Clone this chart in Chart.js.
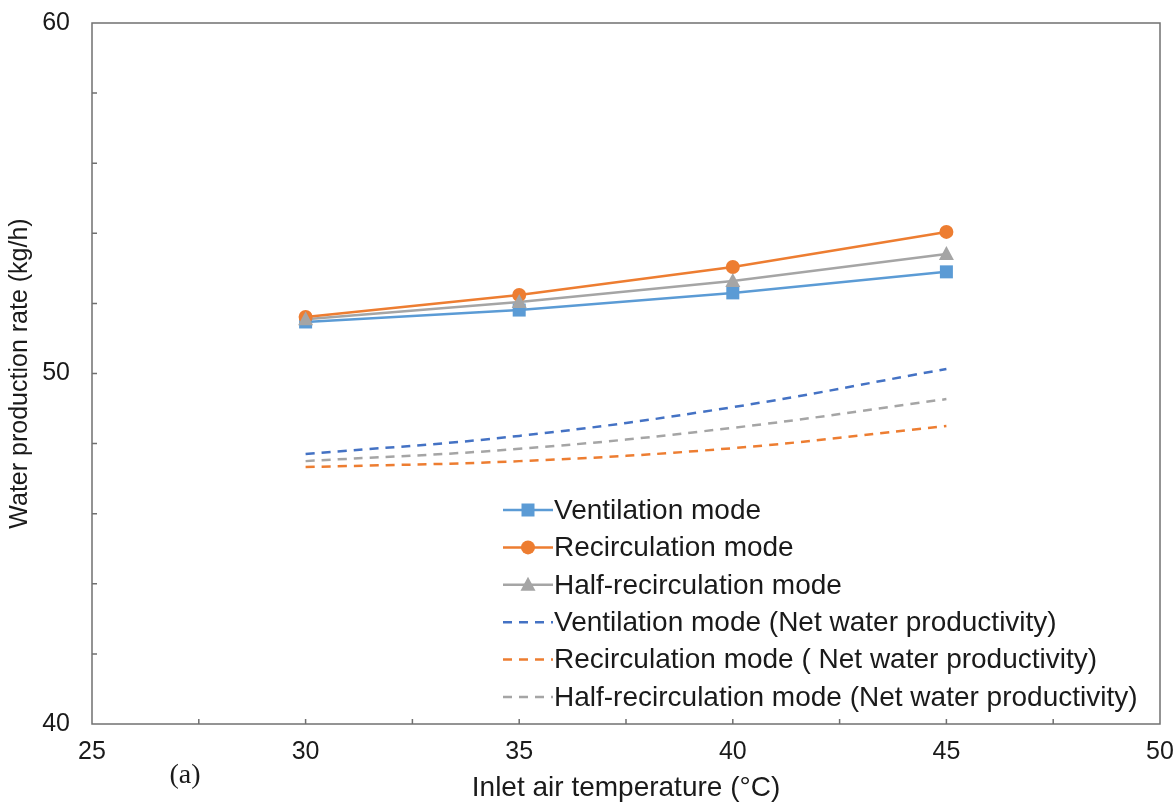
<!DOCTYPE html>
<html>
<head>
<meta charset="utf-8">
<script src="https://cdn.jsdelivr.net/npm/chart.js@4"></script>
<style>
  html, body { margin: 0; padding: 0; background: #fff; }
  #wrap { width: 1176px; height: 805px; }
</style>
</head>
<body>
<div id="wrap"><canvas id="chartWater"></canvas></div>
<script>
// data
const temps = [30, 35, 40, 45];
const ventilation = [51.47, 51.81, 52.30, 52.90];
const recirculation = [51.61, 52.24, 53.04, 54.04];
const halfRecirculation = [51.55, 52.04, 52.64, 53.41];
const ventilationNet = [47.70, 48.22, 49.04, 50.13];
const recirculationNet = [47.33, 47.50, 47.87, 48.50];
const halfRecirculationNet = [47.50, 47.85, 48.45, 49.27];

const xTicks = [25, 30, 35, 40, 45, 50];
const yTicks = [40, 50, 60];

const labels = [
    "Ventilation mode",
    "Recirculation mode",
    "Half-recirculation mode",
    "Ventilation mode (Net water productivity)",
    "Recirculation mode ( Net water productivity)",
    "Half-recirculation mode (Net water productivity)"
];

const canvas = document.getElementById("chartWater");
const textColor = "#1a1a1a";
const fontName = "'Liberation Sans', Arial, sans-serif";

function toPoints(values) {
    return temps.map((t, i) => ({ x: t, y: values[i] }));
}

// draws a marker the same way for the plot and the legend
function drawMarker(ctx, style, x, y, color) {
    ctx.save();
    ctx.fillStyle = color;
    ctx.beginPath();
    if (style == "rect") {
        ctx.rect(x - 6.5, y - 6.5, 13, 13);
    } else if (style == "circle") {
        ctx.arc(x, y, 7, 0, Math.PI * 2);
    } else if (style == "triangle") {
        ctx.moveTo(x, y - 8);
        ctx.lineTo(x + 7.5, y + 6);
        ctx.lineTo(x - 7.5, y + 6);
        ctx.closePath();
    }
    ctx.fill();
    ctx.restore();
}

// frame, inner minor ticks, legend and panel letter
const extras = {
    id: "extras",
    afterDraw(chart) {
        const ctx = chart.ctx;
        const area = chart.chartArea;
        const xs = chart.scales.x;
        const ys = chart.scales.y;

        ctx.save();
        ctx.strokeStyle = "#707070";
        ctx.lineWidth = 1.5;
        ctx.strokeRect(area.left, area.top, area.right - area.left, area.bottom - area.top);

        // inner ticks
        ctx.beginPath();
        for (let v = 27.5; v < 50; v += 2.5) {
            let px = xs.getPixelForValue(v);
            ctx.moveTo(px, area.bottom);
            ctx.lineTo(px, area.bottom - 5);
        }
        for (let v = 42; v < 60; v += 2) {
            let py = ys.getPixelForValue(v);
            ctx.moveTo(area.left, py);
            ctx.lineTo(area.left + 5, py);
        }
        ctx.stroke();
        ctx.restore();

        // legend
        let lx = 503;
        let ly = 510;
        chart.data.datasets.forEach((ds, i) => {
            let y = ly + i * 37.4;
            ctx.save();
            ctx.strokeStyle = ds.borderColor;
            ctx.lineWidth = 2.5;
            ctx.setLineDash(ds.borderDash || []);
            ctx.beginPath();
            ctx.moveTo(lx, y);
            ctx.lineTo(lx + 50, y);
            ctx.stroke();
            ctx.restore();
            if (ds.markerStyle) {
                drawMarker(ctx, ds.markerStyle, lx + 25, y, ds.borderColor);
            }
            ctx.save();
            ctx.fillStyle = textColor;
            ctx.font = "28px " + fontName;
            ctx.textBaseline = "middle";
            ctx.fillText(ds.label, lx + 51, y + 1);
            ctx.restore();
        });

        ctx.save();
        ctx.fillStyle = textColor;
        ctx.font = "28px 'Liberation Serif', 'DejaVu Serif', serif";
        ctx.textAlign = "center";
        ctx.textBaseline = "middle";
        ctx.fillText("(a)", 185, 776);
        ctx.restore();
    }
};

// markers drawn on top of the solid lines
const markers = {
    id: "markers",
    afterDatasetsDraw(chart) {
        chart.data.datasets.forEach((ds, i) => {
            if (!ds.markerStyle) return;
            let meta = chart.getDatasetMeta(i);
            meta.data.forEach(pt => {
                drawMarker(chart.ctx, ds.markerStyle, pt.x, pt.y, ds.borderColor);
            });
        });
    }
};

function solidSet(label, values, color, style) {
    return {
        label: label,
        data: toPoints(values),
        borderColor: color,
        borderWidth: 2.5,
        pointRadius: 0,
        tension: 0,
        markerStyle: style
    };
}

function dashedSet(label, values, color) {
    return {
        label: label,
        data: toPoints(values),
        borderColor: color,
        borderWidth: 2.5,
        borderDash: [9, 7],
        pointRadius: 0,
        tension: 0.4
    };
}

new Chart(canvas, {
    type: "line",
    data: {
        datasets: [
            solidSet(labels[0], ventilation, "#5B9BD5", "rect"),
            solidSet(labels[1], recirculation, "#ED7D31", "circle"),
            solidSet(labels[2], halfRecirculation, "#A5A5A5", "triangle"),
            dashedSet(labels[3], ventilationNet, "#4472C4"),
            dashedSet(labels[4], recirculationNet, "#ED7D31"),
            dashedSet(labels[5], halfRecirculationNet, "#A5A5A5")
        ]
    },
    options: {
        responsive: true,
        maintainAspectRatio: false,
        animation: false,
        layout: { padding: { left: 0, right: 16, top: 23, bottom: 0 } },
        plugins: {
            legend: { display: false },
            tooltip: { enabled: false }
        },
        scales: {
            x: {
                type: "linear",
                min: 25,
                max: 50,
                afterBuildTicks: scale => { scale.ticks = xTicks.map(v => ({ value: v })); },
                afterFit: scale => {
                    scale.height = 81;
                    scale.paddingLeft = 0;
                    scale.paddingRight = 0;
                },
                grid: { display: false, drawTicks: false },
                border: { display: false },
                ticks: { color: textColor, padding: 13, maxRotation: 0, font: { size: 25, family: fontName } },
                title: {
                    display: true,
                    text: "Inlet air temperature (°C)",
                    color: textColor,
                    padding: { top: 0, bottom: 0 },
                    font: { size: 28, family: fontName }
                }
            },
            y: {
                min: 40,
                max: 60,
                afterBuildTicks: scale => { scale.ticks = yTicks.map(v => ({ value: v })); },
                afterFit: scale => {
                    scale.width = 92;
                    scale.paddingTop = 0;
                    scale.paddingBottom = 0;
                },
                grid: { display: false, drawTicks: false },
                border: { display: false },
                ticks: { color: textColor, padding: 22, font: { size: 25, family: fontName } },
                title: {
                    display: true,
                    text: "Water production rate (kg/h)",
                    color: textColor,
                    padding: { top: 5, bottom: 0 },
                    font: { size: 25, family: fontName }
                }
            }
        }
    },
    plugins: [markers, extras]
});
</script>
</body>
</html>
